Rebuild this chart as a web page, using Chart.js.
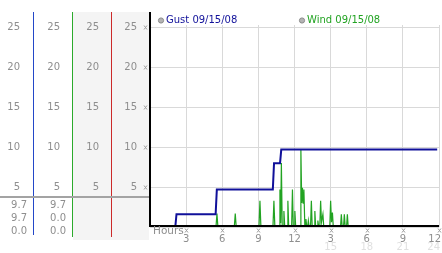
<!DOCTYPE html>
<html lang="en">
<head>
<meta charset="UTF-8">
<title>Gust / Wind 09/15/08</title>
<script src="https://cdn.jsdelivr.net/npm/chart.js"></script>
<style>
  html, body { margin: 0; padding: 0; background: #fff; }
</style>
</head>
<body>
<canvas id="windChart" width="442" height="253"></canvas>

<script>
// gust steps (hours, mph)
const gustHours  = [0, 2.1, 2.2, 5.45, 5.55, 10.2, 10.3, 10.8, 10.9, 23.85];
const gustValues = [0, 0,   1.6, 1.6,  4.7,  4.7,  8.0,  8.0,  9.7,  9.7];

// wind spikes
const windHours = [
  0,
  5.48, 5.56, 5.64,
  7.00, 7.08, 7.16,
  9.05, 9.13, 9.21,
  10.21, 10.29, 10.37,
  10.72, 10.79, 10.85, 10.91, 10.98,
  11.05, 11.12, 11.19,
  11.38, 11.45, 11.52,
  11.76, 11.83, 11.90,
  11.97, 12.03, 12.10,
  12.46, 12.53, 12.60, 12.66, 12.72, 12.78, 12.86,
  12.90, 12.95, 13.02,
  13.09, 13.15, 13.22,
  13.33, 13.40, 13.47,
  13.62, 13.69, 13.76,
  13.88, 13.94, 14.01,
  14.10, 14.17, 14.24, 14.36, 14.43,
  14.93, 15.00, 15.07, 15.15, 15.22,
  15.82, 15.89, 15.96,
  16.07, 16.14, 16.21,
  16.32, 16.39, 16.46,
  24
];
const windValues = [
  0,
  0, 1.7, 0,
  0, 1.7, 0,
  0, 3.3, 0,
  0, 3.3, 0,
  0, 4.7, 0.5, 8.0, 0,
  0, 2.0, 0,
  0, 3.3, 0,
  0, 4.7, 0,
  0, 2.0, 0,
  0, 9.7, 3.0, 4.9, 3.0, 4.7, 0,
  0, 1.0, 0,
  0, 0.8, 0,
  0, 3.3, 0,
  0, 2.0, 0,
  0, 0.8, 0,
  0, 3.3, 0.6, 1.6, 0,
  0, 3.3, 0.6, 1.8, 0,
  0, 1.6, 0,
  0, 1.6, 0,
  0, 1.6, 0,
  0
];

const xTicks = [3, 6, 9, 12, 15, 18, 21, 24];
const xTopLabels = ['3', '6', '9', '12', '3', '6', '9', '12'];
const xBottomLabels = ['', '', '', '', '15', '18', '21', '24'];
const yTicks = [5, 10, 15, 20, 25];
const summaryCol1 = ['9.7', '9.7', '0.0'];
const summaryCol2 = ['9.7', '0.0', '0.0'];
const legendLabels = ['Gust 09/15/08', 'Wind 09/15/08'];

const GUST = '#10109a';
const WIND = '#22a322';
const GRAY = '#8e8e8e';

Chart.defaults.font.family = "'DejaVu Sans', sans-serif";

function tickMark(c, x, y) {
    c.beginPath();
    c.moveTo(x - 1.5, y - 2); c.lineTo(x + 1.5, y + 2);
    c.moveTo(x + 1.5, y - 2); c.lineTo(x - 1.5, y + 2);
    c.stroke();
}

const panelPlugin = {
    id: 'panel',
    beforeDraw(chart) {
        const c = chart.ctx;
        c.save();
        c.fillStyle = '#fff';
        c.fillRect(0, 0, chart.width, chart.height);
        c.fillStyle = '#f4f4f4';
        c.fillRect(73, 12, 76, 228);
        c.restore();
    },
    afterDatasetsDraw(chart) {
        const c = chart.ctx;
        const ys = chart.scales.y, xs = chart.scales.x, area = chart.chartArea;
        c.save();

        // coloured column lines
        c.lineWidth = 1;
        [[33.5, '#2347c8', 235], [72.5, '#2caa2c', 237], [111.5, '#cc2a2a', 237]].forEach(([x, col, end]) => {
            c.strokeStyle = col;
            c.beginPath(); c.moveTo(x, 12); c.lineTo(x, end); c.stroke();
        });

        // repeated y labels in the side columns
        c.font = "10px 'DejaVu Sans'";
        c.fillStyle = GRAY;
        c.textAlign = 'right';
        c.textBaseline = 'middle';
        yTicks.forEach(v => {
            const py = ys.getPixelForValue(v);
            [20, 60, 99].forEach(rx => c.fillText(String(v), rx, py));
        });

        // separator + current values
        c.strokeStyle = '#a3a3a3';
        c.lineWidth = 2;
        c.beginPath(); c.moveTo(0, 197); c.lineTo(149, 197); c.stroke();
        [205, 218, 231.5].forEach((py, i) => {
            c.fillText(summaryCol1[i], 27, py);
            c.fillText(summaryCol2[i], 66, py);
        });

        // axes
        c.strokeStyle = '#000';
        c.lineWidth = 2;
        c.beginPath(); c.moveTo(150, 12); c.lineTo(150, 227); c.stroke();
        c.beginPath(); c.moveTo(149, 226); c.lineTo(area.right, 226); c.stroke();

        // little tick glyphs
        c.strokeStyle = '#a0a0a0';
        c.lineWidth = 1;
        yTicks.forEach(v => tickMark(c, 145.5, Math.round(ys.getPixelForValue(v)) + 0.5));
        xTicks.forEach(v => tickMark(c, Math.round(xs.getPixelForValue(v)) + 0.5, 230.5));

        // x labels, two rows
        c.textAlign = 'center';
        xTicks.forEach((v, i) => {
            const w = c.measureText(xTopLabels[i]).width;
            const px = Math.min(xs.getPixelForValue(v), 441 - w / 2);
            c.fillStyle = GRAY;
            c.fillText(xTopLabels[i], px, 239);
            if (xBottomLabels[i]) {
                const w2 = c.measureText(xBottomLabels[i]).width;
                c.fillStyle = '#e0e0e0';
                c.fillText(xBottomLabels[i], Math.min(xs.getPixelForValue(v), 440 - w2 / 2), 247);
            }
        });
        c.textAlign = 'left';
        c.fillStyle = GRAY;
        c.font = "10.5px 'DejaVu Sans'";
        c.fillText('Hours', 153, 231.5);

        // legend
        c.font = "10px 'DejaVu Sans'";
        [[161, GUST], [302, WIND]].forEach(([lx, col], i) => {
            c.beginPath();
            c.arc(lx, 20.5, 2.6, 0, Math.PI * 2);
            c.fillStyle = '#b4b4b4'; c.fill();
            c.strokeStyle = '#8c8c8c'; c.lineWidth = 1; c.stroke();
            c.fillStyle = col;
            c.fillText(legendLabels[i], lx + 5, 20.5);
        });
        c.restore();
    }
};

new Chart(document.getElementById('windChart'), {
    type: 'line',
    data: {
        datasets: [{
            label: legendLabels[0],
            data: gustHours.map((h, i) => ({ x: h, y: gustValues[i] })),
            borderColor: GUST,
            borderWidth: 2,
            pointRadius: 0,
            tension: 0
        }, {
            label: legendLabels[1],
            data: windHours.map((h, i) => ({ x: h, y: windValues[i] })),
            borderColor: WIND,
            borderWidth: 1.2,
            pointRadius: 0,
            tension: 0
        }]
    },
    options: {
        responsive: false,
        animation: false,
        layout: { padding: { top: 25, right: 3, left: 0, bottom: 0 } },
        plugins: { legend: { display: false }, tooltip: { enabled: false } },
        scales: {
            x: {
                type: 'linear',
                min: 0,
                max: 24,
                ticks: { stepSize: 3, display: false },
                grid: { color: '#d9d9d9', drawTicks: false },
                border: { display: false },
                afterFit: s => { s.height = 26; s.paddingLeft = 0; s.paddingRight = 0; }
            },
            y: {
                min: 0,
                max: 25.3,
                ticks: {
                    stepSize: 5,
                    includeBounds: false,
                    padding: 13,
                    color: GRAY,
                    font: { size: 10 },
                    callback: v => yTicks.includes(v) ? String(v) : ''
                },
                grid: { color: '#d9d9d9', drawTicks: false },
                border: { display: false },
                afterFit: s => { s.width = 150; s.paddingTop = 0; s.paddingBottom = 0; }
            }
        }
    },
    plugins: [panelPlugin]
});
</script>
</body>
</html>
